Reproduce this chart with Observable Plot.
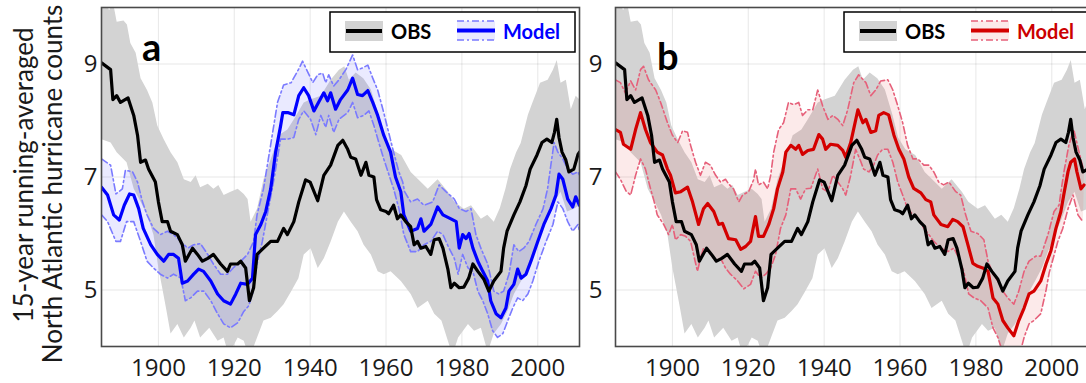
<!DOCTYPE html>
<html><head><meta charset="utf-8">
<script src="https://cdn.jsdelivr.net/npm/d3@7"></script>
<script src="https://cdn.jsdelivr.net/npm/@observablehq/plot@0.6"></script>
<style>
html,body{margin:0;padding:0;background:#fff;overflow:hidden;}
#wrap{position:relative;width:1086px;height:383px;overflow:hidden;font-family:Lato,"Open Sans",sans-serif;}
#wrap > *{position:absolute;top:0;}
#wrap svg.panel g[aria-label^="x-axis"], #wrap svg.panel g[aria-label^="y-axis"],
#wrap svg.panel g[aria-label^="x-axis"] text, #wrap svg.panel g[aria-label^="y-axis"] text{font-size:24px !important;font-family:"Open Sans",Lato,sans-serif !important;}
</style></head><body><div id="wrap"></div>
<script>
const xTicks = [1900, 1920, 1940, 1960, 1980, 2000];
const yTicks = [5, 7, 9];
const panelLetters = ["a", "b"];
const legendLabels = ["OBS", "Model"];
const yLabelLines = ["15-year running-averaged", "North Atlantic hurricane counts"];

const obsMean = [[1885,9.02],[1887.4,8.9],[1888,8.37],[1889,8.44],[1890,8.32],[1892,8.40],[1893.5,8.09],[1894.5,7.74],[1895.3,7.26],[1896.6,7.3],[1897.4,7.14],[1899.2,6.91],[1900,6.56],[1901,6.21],[1902.4,6.21],[1903.2,6.04],[1905,5.98],[1906.3,5.8],[1907.1,5.51],[1909,5.74],[1910.3,5.63],[1911.6,5.51],[1913,5.56],[1914.5,5.63],[1916.4,5.46],[1918.2,5.33],[1919,5.46],[1920.9,5.46],[1921.7,5.51],[1923,5.39],[1924,4.81],[1925.1,5.04],[1926,5.63],[1927.7,5.74],[1929.6,5.86],[1931.4,5.86],[1933,6.09],[1934,5.98],[1935.7,6.21],[1937,6.56],[1938.8,6.95],[1940,6.91],[1942,6.58],[1943.6,7.03],[1945.4,7.21],[1947.3,7.56],[1948.6,7.65],[1949.9,7.49],[1950.7,7.35],[1952,7.32],[1953.4,7.03],[1954.7,7.26],[1955.5,7.03],[1956.8,7.0],[1957.5,6.6],[1958.6,6.42],[1960,6.39],[1960.7,6.35],[1962,6.5],[1963,6.26],[1963.9,6.33],[1965.2,6.21],[1966.5,6.12],[1967.4,5.8],[1968.3,5.86],[1969.2,5.74],[1970.5,5.77],[1971.8,5.63],[1972.7,5.89],[1974,5.91],[1975,5.74],[1975.8,5.51],[1976.3,5.37],[1977.1,5.04],[1978,5.12],[1979.3,5.04],[1980.5,5.05],[1981.8,5.21],[1982.9,5.46],[1984.2,5.33],[1985.8,5.19],[1987.1,4.98],[1988.4,5.16],[1990.3,5.33],[1991,5.74],[1991.9,6.04],[1993.7,6.33],[1995.3,6.56],[1996.9,6.85],[1998,7.14],[1999.8,7.39],[2001.1,7.61],[2002.4,7.67],[2003.7,7.61],[2004.4,7.79],[2005,8.02],[2005.6,7.7],[2006.4,7.44],[2007.4,7.3],[2008.2,7.09],[2009.5,7.14],[2010.6,7.4],[2011,7.44]];

const obsUpper = [[1885,10.3],[1887,9.95],[1888,10.1],[1889,9.75],[1890.8,9.77],[1891.7,9.7],[1892.6,9.37],[1894,9.2],[1895.3,8.75],[1897,8.54],[1898.4,8.32],[1899.7,7.91],[1901.4,7.67],[1903.2,7.44],[1905,7.26],[1906.7,6.96],[1908.5,6.91],[1909.8,7.03],[1911,6.82],[1913,6.88],[1914.5,6.79],[1915.8,6.86],[1917.2,6.68],[1919,6.74],[1920.9,6.79],[1922.5,6.7],[1923.5,6.61],[1924.3,6.21],[1926,6.44],[1927.7,6.96],[1930,7.39],[1931.7,7.74],[1934,7.84],[1935.7,8.02],[1938.3,8.32],[1940,8.37],[1942.8,8.44],[1945.4,8.72],[1947.6,8.9],[1949,8.96],[1950.2,8.72],[1952,8.85],[1954,8.75],[1956,8.55],[1958,8.1],[1959.5,7.7],[1961.4,7.49],[1964,7.39],[1966.5,7.09],[1969.2,6.91],[1971,6.79],[1973.6,6.96],[1976.3,6.74],[1978,6.56],[1980.5,6.44],[1982.4,6.5],[1985,6.26],[1986.7,6.33],[1988.4,6.21],[1990,6.45],[1991.5,6.8],[1992.7,7.14],[1994.3,7.44],[1995.5,7.6],[1997.4,8.1],[1998.5,8.3],[2000.6,8.67],[2002.6,8.72],[2004,8.9],[2005,9.07],[2006,8.67],[2007.4,8.72],[2008.7,8.2],[2010,8.44],[2011,8.37]];

const obsLower = [[1885,7.67],[1887.4,7.61],[1889,7.44],[1891.6,7.26],[1893.5,6.79],[1895.3,6.56],[1897,6.33],[1898.7,5.98],[1900,5.39],[1901,5.04],[1902,4.68],[1903.2,4.23],[1905,4.4],[1906.7,4.16],[1908.5,4.33],[1909.5,4.46],[1911,4.16],[1913.4,4.33],[1915.6,4.1],[1917.2,4.16],[1918.5,3.85],[1920.9,4.16],[1922.5,4.1],[1924,3.8],[1926,4.16],[1927.7,4.46],[1929.6,4.51],[1931.4,4.63],[1933,4.75],[1935,4.98],[1936.9,5.21],[1938.3,5.63],[1940.1,5.74],[1942,5.39],[1943.6,5.56],[1945.4,5.86],[1947.3,6.21],[1948.9,6.39],[1950.7,6.21],[1952.5,6.04],[1954.1,5.8],[1956,5.63],[1957.8,5.33],[1959.4,5.28],[1961.2,5.33],[1963.9,5.16],[1966.5,4.93],[1968.3,4.68],[1971,4.81],[1972.7,4.58],[1974.6,4.46],[1976.3,4.1],[1977.5,3.85],[1979,4.16],[1981.6,4.4],[1983.2,4.28],[1985,4.33],[1986.8,3.9],[1988.4,4.23],[1990.3,4.4],[1992,4.63],[1993.7,4.93],[1995.6,5.16],[1997.4,5.39],[1999,5.68],[2000.8,5.98],[2002.6,6.26],[2004.3,6.56],[2006,6.74],[2007.7,6.39],[2009.5,6.44],[2011,6.5]];

const blueMean = [[1885,6.82],[1886.6,6.68],[1888.2,6.33],[1889.7,6.24],[1891,6.5],[1892.4,6.7],[1893.5,6.68],[1894.8,6.44],[1896,6.09],[1898,5.8],[1899.7,5.63],[1901.4,5.51],[1902.7,5.63],[1904,5.63],[1905.3,5.56],[1906.3,5.12],[1907.7,5.16],[1909.3,5.28],[1910.6,5.37],[1911.9,5.33],[1913.8,5.16],[1915.6,4.93],[1917.2,4.81],[1919,4.75],[1920.4,4.93],[1921.7,5.12],[1923.5,5.1],[1924.8,5.21],[1925.6,5.98],[1927,6.16],[1928.3,6.39],[1929.6,6.79],[1930.9,7.44],[1932.2,7.9],[1932.8,8.14],[1934.1,8.14],[1935.7,8.1],[1937,8.44],[1938.3,8.58],[1939.6,8.44],[1941,8.17],[1942.2,8.32],[1943.6,8.49],[1944.6,8.35],[1945.4,8.49],[1946.7,8.2],[1948,8.37],[1949.9,8.54],[1951.2,8.75],[1952.5,8.46],[1953.8,8.44],[1955.2,8.53],[1956.5,8.32],[1957.8,8.09],[1959.4,7.74],[1961.2,7.44],[1962.5,7.0],[1963.9,6.74],[1964.7,6.33],[1966.5,6.04],[1968.3,6.09],[1969.2,6.26],[1970,6.04],[1971.8,6.16],[1973.6,6.47],[1975,6.33],[1977.1,6.26],[1978.5,6.21],[1979.3,5.74],[1980.2,5.98],[1981.1,5.91],[1981.9,6.0],[1982.9,5.74],[1984.2,5.51],[1985.5,5.33],[1986.8,5.16],[1987.6,4.81],[1989,4.58],[1990.3,4.51],[1991.6,4.68],[1992.4,4.98],[1993.7,5.1],[1994.7,5.37],[1995.6,5.21],[1996.9,5.28],[1998.2,5.51],[2000,5.86],[2001.6,6.16],[2003.5,6.44],[2004.8,6.68],[2005.6,7.05],[2006.6,6.96],[2007.9,6.61],[2009.2,6.47],[2010,6.65],[2011,6.5]];

const blueUpper = [[1885,7.32],[1887.4,7.21],[1888.8,6.7],[1890.5,6.79],[1891.3,7.12],[1893.2,7.09],[1894.5,6.91],[1895.8,6.56],[1897,6.33],[1898.7,6.09],[1900.5,5.98],[1902.4,6.04],[1904,5.98],[1905.9,5.86],[1907.7,5.74],[1909.3,5.8],[1911.1,5.82],[1913,5.63],[1914.5,5.46],[1916.4,5.28],[1918.2,5.28],[1919.7,5.39],[1921.7,5.51],[1923.5,5.63],[1925.1,5.86],[1926,6.33],[1927.7,6.79],[1930,7.74],[1931.4,8.32],[1933,8.63],[1935,8.67],[1936.9,8.9],[1938,9.05],[1939.5,8.84],[1940.7,8.67],[1942,8.81],[1943.3,8.84],[1944.1,8.67],[1944.9,8.81],[1946.2,8.61],[1947.6,8.72],[1949.4,8.9],[1951.2,9.16],[1952.5,8.9],[1953.8,8.93],[1955.2,8.98],[1956.5,8.75],[1957.8,8.54],[1959.4,8.14],[1960.5,7.84],[1962,7.44],[1963.4,7.09],[1964.4,6.91],[1964.9,6.74],[1966.5,6.56],[1968.3,6.61],[1970,6.5],[1972.3,6.56],[1974,6.86],[1975.8,6.74],[1978,6.61],[1979.3,6.44],[1981.1,6.39],[1982.4,6.44],[1983.7,5.98],[1985,5.74],[1986.8,5.46],[1988.4,4.98],[1989.7,4.93],[1991,4.98],[1992.4,5.28],[1993.7,5.8],[1995,5.68],[1996.3,5.74],[1997.7,5.86],[1999.5,6.16],[2001.4,6.44],[2002.6,6.8],[2003.3,7.14],[2004.3,7.61],[2005.3,7.44],[2006.6,7.32],[2007.9,7.14],[2009.2,7.05],[2010.6,7.09],[2011,7.03]];

const blueLower = [[1885,6.33],[1886.6,6.21],[1888.8,5.86],[1890,5.86],[1891.6,6.21],[1893.5,6.21],[1895.3,5.86],[1897,5.51],[1898.7,5.39],[1900.5,5.28],[1902.4,5.21],[1904,5.28],[1905.9,5.21],[1907.1,4.81],[1908.5,4.86],[1910.3,4.98],[1912,4.98],[1913.8,4.81],[1915.6,4.58],[1917.2,4.4],[1919,4.33],[1920.9,4.42],[1922.5,4.62],[1923.8,4.72],[1924.8,4.93],[1926,5.46],[1927.4,5.86],[1928.7,6.33],[1930,6.79],[1930.9,7.14],[1932.2,7.67],[1934.1,7.67],[1935.7,7.7],[1937,8.02],[1938.3,8.17],[1940.1,8.02],[1941.5,7.75],[1942.8,8.09],[1944.1,7.88],[1944.9,8.09],[1946.2,7.79],[1947.6,8.02],[1949.9,8.14],[1951.2,8.32],[1952.5,8.05],[1954.1,8.09],[1955.5,8.17],[1956.8,7.91],[1958.1,7.61],[1959.4,7.32],[1962,6.79],[1963.4,6.44],[1964.7,5.98],[1966.5,5.68],[1968.3,5.68],[1970,5.8],[1971.8,5.86],[1973.6,6.04],[1975,5.98],[1976.6,5.74],[1978,5.56],[1979,5.28],[1980.2,5.63],[1981.6,5.39],[1982.9,5.33],[1984.2,4.98],[1985.5,4.81],[1986.8,4.58],[1988.1,4.28],[1989.4,4.16],[1990.8,4.23],[1992.1,4.46],[1993.4,4.68],[1994.7,4.86],[1996,4.81],[1997.4,4.93],[1998.7,5.16],[2000.3,5.51],[2002.2,5.86],[2004,6.16],[2005.3,6.56],[2006.6,6.44],[2007.9,6.21],[2009.2,6.04],[2010.6,6.16],[2011,6.04]];

const redMean = [[1885,7.84],[1886.3,7.79],[1887.1,7.58],[1889,7.49],[1890.3,7.84],[1891.6,8.14],[1892.9,7.84],[1894.2,7.61],[1896,7.44],[1897.4,7.39],[1898.7,7.14],[1899.5,7.03],[1900.8,6.72],[1902.2,6.74],[1904,6.82],[1905.3,6.56],[1906.9,6.16],[1908.2,6.44],[1909.3,6.53],[1910.9,6.39],[1912.2,6.16],[1913.2,6.18],[1914.8,5.91],[1916.7,5.89],[1918,5.72],[1919.3,5.77],[1920.6,5.86],[1921.9,6.3],[1922.7,5.95],[1924,5.95],[1925.4,6.16],[1926.7,6.44],[1927.7,6.79],[1929.1,7.09],[1929.9,7.44],[1931.2,7.56],[1932.5,7.49],[1933.3,7.56],[1934.3,7.4],[1935.7,7.47],[1937.2,7.49],[1938.6,7.75],[1939.6,7.67],[1940.4,7.49],[1941.7,7.58],[1943.6,7.56],[1944.9,7.47],[1945.7,7.35],[1947,7.61],[1948.9,8.19],[1950.2,7.96],[1951,8.02],[1952.3,7.79],[1953.6,7.82],[1954.4,8.09],[1955.7,8.14],[1957,8.1],[1958.4,7.74],[1959.7,7.49],[1961,7.32],[1962.3,7.0],[1963.6,6.8],[1965.5,6.72],[1966.8,6.6],[1968.1,6.56],[1968.9,6.33],[1970.8,6.16],[1972.6,6.12],[1973.9,6.25],[1975.2,6.21],[1976.6,6.12],[1977.9,5.8],[1979.2,5.47],[1980.5,5.42],[1981.8,5.39],[1983.2,5.33],[1984.5,4.86],[1985.8,4.75],[1987.1,4.46],[1988.4,4.33],[1990,4.19],[1991.3,4.46],[1992.7,4.68],[1994,4.93],[1995.3,4.98],[1997.1,5.16],[1998.5,5.46],[1999.8,5.7],[2001.1,6.09],[2002.4,6.39],[2003.2,6.7],[2004.3,7.1],[2005,7.26],[2006,7.32],[2006.6,7.1],[2007.7,6.79],[2008.5,6.86]];

const redUpper = [[1885,8.72],[1886.3,8.67],[1887.6,8.49],[1889,8.7],[1890.3,8.54],[1891.6,8.9],[1892.4,8.96],[1893.7,8.72],[1895.6,8.54],[1896.9,8.32],[1898.7,7.96],[1900,7.74],[1901.4,7.61],[1902.7,7.82],[1904,7.79],[1904.8,7.56],[1906.1,7.26],[1907.4,7.03],[1908.7,7.26],[1910,7.21],[1911.4,7.03],[1912.7,6.91],[1914,6.96],[1914.8,6.88],[1916.1,6.79],[1917.5,6.56],[1918.5,6.68],[1920.1,6.74],[1921.4,6.95],[1921.9,7.14],[1922.7,6.86],[1924,6.91],[1925.1,6.79],[1925.9,7.03],[1926.7,7.44],[1928,7.84],[1929.3,7.96],[1930.6,8.32],[1932,8.28],[1933.3,8.32],[1934.3,8.09],[1935.7,8.19],[1937,8.19],[1938.3,8.54],[1939.6,8.26],[1941,8.02],[1942.3,8.09],[1943.6,8.02],[1944.9,7.91],[1946.2,8.19],[1947.8,8.67],[1949.1,8.81],[1951,8.67],[1952.3,8.44],[1953.6,8.54],[1954.9,8.7],[1956.8,8.72],[1958.1,8.54],[1959.4,8.26],[1960.7,7.96],[1962,7.56],[1963.4,7.32],[1964.7,7.32],[1966.3,7.21],[1967.6,7.21],[1968.9,7.09],[1970.2,6.91],[1971.5,6.86],[1972.9,6.91],[1974.7,6.74],[1976,6.68],[1977.3,6.33],[1978.7,6.04],[1980.5,6.0],[1982.1,5.89],[1983.2,5.51],[1984.5,5.28],[1985.8,5.16],[1987.1,4.98],[1988.4,4.86],[1990,4.75],[1991.3,4.98],[1992.7,5.33],[1994,5.51],[1995.8,5.6],[1997.1,5.6],[1999,5.98],[2000.6,6.39],[2001.9,6.5],[2003.2,7.09],[2004.5,7.56],[2005.8,7.84],[2007.2,7.44],[2008.5,7.09]];

const redLower = [[1885,7.09],[1886.3,6.96],[1887.8,6.75],[1889,6.68],[1890.3,7.03],[1891.6,7.32],[1892.9,7.14],[1894.2,6.8],[1895.2,6.56],[1896,6.33],[1897.7,6.16],[1899,5.98],[1900,6.16],[1900.8,5.89],[1902.2,5.98],[1903.5,5.95],[1904.8,5.86],[1906.6,5.33],[1907.4,5.56],[1908.2,5.74],[1909.5,5.68],[1911.4,5.51],[1912.7,5.56],[1914,5.39],[1915.3,5.28],[1917.2,5.16],[1918.8,5.02],[1920.6,5.1],[1921.9,5.33],[1923.3,5.21],[1924.6,5.28],[1925.9,5.39],[1927.2,5.63],[1928.5,6.09],[1929.9,6.33],[1931.2,6.79],[1932.5,6.79],[1933.8,6.61],[1935.1,6.79],[1936.5,6.8],[1938.3,7.14],[1939.6,6.79],[1941,6.74],[1942.3,7.03],[1943.6,6.91],[1944.9,6.79],[1945.7,6.68],[1947,7.03],[1948.3,7.49],[1949.5,7.3],[1950.4,7.14],[1951.8,7.09],[1953,7.2],[1954.1,7.39],[1955.4,7.49],[1956.8,7.49],[1958.1,7.26],[1959.4,6.91],[1960.7,6.68],[1962,6.44],[1963.4,6.33],[1964.7,6.26],[1966.3,6.09],[1967.6,5.98],[1968.9,5.86],[1970.8,5.74],[1972.6,5.68],[1974.2,5.74],[1975.5,5.56],[1976.8,5.33],[1978.1,4.93],[1979.5,4.86],[1981.3,4.81],[1983.2,4.68],[1984.5,4.33],[1985.8,4.16],[1986.8,3.95],[1988.5,3.8],[1990,3.75],[1991.5,3.85],[1992.7,4.16],[1994,4.4],[1995.3,4.46],[1997.1,4.58],[1998.5,5.0],[1999.3,5.3],[2001.6,5.86],[2002.9,6.09],[2004.3,6.44],[2005.6,6.68],[2006.9,6.33],[2008.2,6.21]];

// closed band outline: upper forward, lower backward
const band = (up, lo) => up.concat(lo.slice().reverse());

function panel(opts) {
  const {mean, upper, lower, color, dash, fill, tickPad} = opts;
  const svg = Plot.plot({
    width: 590, height: 383,
    marginLeft: 101, marginRight: 11, marginTop: 7, marginBottom: 37,
    style: {fontFamily: "'Open Sans', Lato, sans-serif", fontSize: "24px", color: "#1a1a1a", background: "transparent", overflow: "visible"},
    x: {domain: [1885, 2011], ticks: xTicks, tickFormat: d => String(d), tickSize: 0, tickPadding: 12, label: null, grid: true},
    y: {domain: [4, 10], ticks: yTicks, tickFormat: d => String(d), tickSize: 0, tickPadding: tickPad, label: null, grid: true},
    marks: [
      Plot.line(band(obsUpper, obsLower), {x: d => d[0], y: d => d[1], fill: "#d3d3d3", stroke: "none", clip: true}),
      Plot.line(band(upper, lower), {x: d => d[0], y: d => d[1], fill: fill, fillOpacity: 0.13, stroke: "none", clip: true}),
      Plot.line(upper, {x: d => d[0], y: d => d[1], stroke: dash, strokeWidth: 1.6, strokeDasharray: "7,3,2,3", clip: true}),
      Plot.line(lower, {x: d => d[0], y: d => d[1], stroke: dash, strokeWidth: 1.6, strokeDasharray: "7,3,2,3", clip: true}),
      Plot.line(mean, {x: d => d[0], y: d => d[1], stroke: color, strokeWidth: 3.2, clip: true}),
      Plot.line(obsMean, {x: d => d[0], y: d => d[1], stroke: "#000", strokeWidth: 3.2, clip: true}),
      Plot.frame({stroke: "#4a4a4a", strokeWidth: 1.6})
    ]
  });
  svg.classList.add("panel");
  return svg;
}

const wrap = document.getElementById("wrap");
const pa = panel({mean: blueMean, upper: blueUpper, lower: blueLower, color: "#0000ff", dash: "#7a7aff", fill: "#6060ff", tickPad: 4});
pa.style.left = "0px";
const pb = panel({mean: redMean, upper: redUpper, lower: redLower, color: "#d40000", dash: "#e6607a", fill: "#e85a5a", tickPad: 13});
pb.style.left = "514px";
wrap.appendChild(pa);
wrap.appendChild(pb);

// overlay: axis title, panel letters, legends
const NS = "http://www.w3.org/2000/svg";
const ov = document.createElementNS(NS, "svg");
ov.setAttribute("width", 1086); ov.setAttribute("height", 383);
ov.style.left = "0px";
ov.style.fontFamily = "Lato, 'Open Sans', sans-serif";
function el(tag, attrs, text) {
  const e = document.createElementNS(NS, tag);
  for (const k in attrs) e.setAttribute(k, attrs[k]);
  if (text != null) e.textContent = text;
  ov.appendChild(e);
  return e;
}
el("text", {transform: "translate(33,175) rotate(-90)", "text-anchor": "middle", "font-size": 26, fill: "#1a1a1a"}, yLabelLines[0]);
el("text", {transform: "translate(62,184) rotate(-90)", "text-anchor": "middle", "font-size": 26, fill: "#1a1a1a"}, yLabelLines[1]);

const panels = [
  {left: 101, letterX: 142, letterY: 61, color: "#0000ff", dash: "#7a7aff", fill: "#6060ff", text: "#0000ff"},
  {left: 615, letterX: 657, letterY: 70, color: "#d40000", dash: "#e6607a", fill: "#e85a5a", text: "#cc0000"}
];
panels.forEach((p, i) => {
  el("text", {x: p.letterX, y: p.letterY, "font-size": 38, "font-weight": 700, fill: "#000"}, panelLetters[i]);
  const bx = p.left + 229, by = 12;
  el("rect", {x: bx, y: by, width: 245, height: 40, fill: "#fff", stroke: "#000", "stroke-width": 1.5});
  // OBS swatch
  el("rect", {x: bx + 15, y: by + 9, width: 38, height: 20, fill: "#d3d3d3"});
  el("line", {x1: bx + 16, x2: bx + 52, y1: by + 19, y2: by + 19, stroke: "#000", "stroke-width": 4});
  el("text", {x: bx + 61, y: by + 27, "font-size": 20, "font-weight": 700, fill: "#000"}, legendLabels[0]);
  // Model swatch
  const mx = bx + 127;
  el("rect", {x: mx, y: by + 9, width: 38, height: 19, fill: p.fill, "fill-opacity": 0.13});
  el("line", {x1: mx, x2: mx + 38, y1: by + 9, y2: by + 9, stroke: p.dash, "stroke-width": 1.6, "stroke-dasharray": "7,3,2,3"});
  el("line", {x1: mx, x2: mx + 38, y1: by + 28, y2: by + 28, stroke: p.dash, "stroke-width": 1.6, "stroke-dasharray": "7,3,2,3"});
  el("line", {x1: mx, x2: mx + 38, y1: by + 18.5, y2: by + 18.5, stroke: p.color, "stroke-width": 4});
  el("text", {x: mx + 46, y: by + 27, "font-size": 20, "font-weight": 700, fill: p.text}, legendLabels[1]);
});
wrap.appendChild(ov);
</script></body></html>
